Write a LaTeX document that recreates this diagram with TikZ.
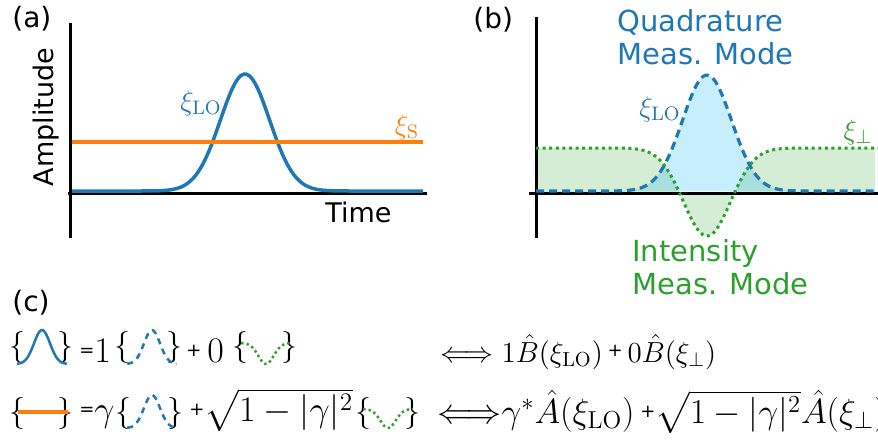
\RequirePackage{fix-cm}
\documentclass[tikz,border=0pt]{standalone}
\usepackage[no-math]{fontspec}
\setmainfont{DejaVu Sans}
\usepackage{amsmath}
\usetikzlibrary{positioning}
\definecolor{tabblue}{RGB}{31,119,180}
\definecolor{taborange}{RGB}{255,127,14}
\definecolor{tabgreen}{RGB}{44,160,44}
\definecolor{skyfill}{RGB}{0,176,245}
\newcommand{\smallop}[1]{\raisebox{2.6pt}{\fontsize{9}{9}\selectfont #1}}

\begin{document}
\begin{tikzpicture}[
    x=0.5pt, y=-0.5pt,
    axisline/.style={line width=1.5pt, black},
    lomode/.style={line width=1.75pt, tabblue},
    lodash/.style={line width=1.6pt, tabblue, dash pattern=on 4pt off 2.5pt},
    perpdot/.style={line width=1.5pt, tabgreen, dash pattern=on 1.5pt off 1.8pt},
    sigline/.style={line width=2.25pt, taborange},
    lofill/.style={fill=skyfill, fill opacity=0.22},
    perpfill/.style={fill=tabgreen, fill opacity=0.2},
    panellabel/.style={font=\fontsize{14}{16}\selectfont, inner sep=0pt, anchor=base west},
    axislabel/.style={font=\fontsize{13.5}{16}\selectfont, inner sep=0pt},
    modelabel/.style={font=\fontsize{14.5}{16.5}\selectfont, align=left, inner sep=0pt, anchor=base west},
    xilabel/.style={font=\fontsize{14}{16}\selectfont, inner sep=0pt},
    eqpart/.style={font=\fontsize{16}{18}\selectfont, inner sep=0pt},
    eqbig/.style={font=\fontsize{18}{20}\selectfont, inner sep=0pt, anchor=base west},
    eqright/.style={font=\fontsize{14.5}{18}\selectfont, inner sep=0pt, anchor=base west}
]
\useasboundingbox (0,0) rectangle (878,441);

% (a) local oscillator and signal
\node[panellabel] (laba) at (12,27) {(a)};
\draw[axisline] (70,23) -- (70,238);
\draw[axisline] (68,193) -- (427,193);
\draw[lomode] (72,191) -- plot[domain=-4.5:4.5, samples=80, smooth] ({245+24.6*\x},{191-117*exp(-\x*\x/2)}) -- (423,191);
\draw[sigline] (72,142) -- (423,142);
\node[axislabel, rotate=90] (amp) at (46,117) {Amplitude};
\node[axislabel, anchor=base west] (time) at (325,222) {Time};
\node[xilabel, text=tabblue] (xia) at (201,103) {$\xi_{\mathrm{LO}}$};
\node[xilabel, text=taborange] (xis) at (407,127) {$\xi_{\mathrm{S}}$};

% (b) measurement modes
\node[panellabel] (labb) at (473,28) {(b)};
\fill[perpfill] (536,193) -- (536,148) -- plot[domain=-4.5:4.5, samples=80, smooth] ({707+24.6*\x},{148+88*exp(-\x*\x/1.854)}) -- (875,148) -- (875,193) -- cycle;
\fill[lofill] (536,191) -- plot[domain=-4.5:4.5, samples=80, smooth] ({707+24.6*\x},{191-116*exp(-\x*\x/2)}) -- (878,191) -- cycle;
\draw[axisline] (536,17) -- (536,238);
\draw[axisline] (529,193) -- (878,193);
\draw[lodash] (536,191) -- plot[domain=-4.5:4.5, samples=80, smooth] ({707+24.6*\x},{191-116*exp(-\x*\x/2)}) -- (878,191);
\draw[perpdot] (536,148) -- plot[domain=-4.5:4.5, samples=80, smooth] ({707+24.6*\x},{148+88*exp(-\x*\x/1.854)}) -- (878,148);
\node[modelabel, text=tabblue] (quad) at (617,64) {Quadrature\\Meas. Mode};
\node[modelabel, text=tabgreen] (inten) at (632,294) {Intensity\\Meas. Mode};
\node[xilabel, text=tabblue] (xib) at (660,109) {$\xi_{\mathrm{LO}}$};
\node[xilabel, text=tabgreen] (xip) at (858,132) {$\xi_{\perp}$};

% (c) mode decompositions
\node[panellabel] (labc) at (12,311) {(c)};
\node[eqpart] (bra) at (41.5,347) {$\{\hspace{16pt}\}$};
\node[eqbig] (eqa) at (79,362) {\smallop{=}$1$};
\node[eqpart] (brb) at (148,347) {$\{\hspace{18pt}\}$};
\node[eqbig] (plusa) at (186,362) {\smallop{+}\,$0$};
\node[eqpart] (brc) at (265,347) {$\{\hspace{17pt}\}$};
\draw[lomode, line width=1.25pt] plot[domain=-3.1:3.1, samples=40, smooth] ({42+8*\x},{364-34*exp(-\x*\x/2)});
\draw[lodash, line width=1.25pt, dash pattern=on 3pt off 2.5pt] plot[domain=-3.1:3.1, samples=40, smooth] ({152+8*\x},{364-34*exp(-\x*\x/2)});
\draw[perpdot, line width=1.25pt, dash pattern=on 1.2pt off 1.5pt] plot[domain=-3.1:3.1, samples=40, smooth] ({266+8*\x},{343+21*exp(-\x*\x/1.854)});
\node[eqright] (opb) at (440,362) {$\Longleftrightarrow 1\hat{B}(\xi_{\mathrm{LO}})$\,\smallop{+}\,$0\hat{B}(\xi_{\perp})$};

\node[eqpart] (brd) at (41.5,413) {$\{\hspace{16pt}\}$};
\node[eqbig] (eqb) at (79,421) {\smallop{=}$\gamma$};
\node[eqpart] (bre) at (149,413) {$\{\hspace{18pt}\}$};
\node[eqbig] (plusb) at (189,421) {\smallop{+}$\sqrt{1-|\gamma|^2}$};
\node[eqpart] (brf) at (388,413) {$\{\hspace{17pt}\}$};
\draw[sigline, line width=2pt] (18,412) -- (68,412);
\draw[lodash, line width=1.25pt, dash pattern=on 3pt off 2.5pt] plot[domain=-3.1:3.1, samples=40, smooth] ({152+8*\x},{428-33*exp(-\x*\x/2)});
\draw[perpdot, line width=1.25pt, dash pattern=on 1.2pt off 1.5pt] plot[domain=-3.1:3.1, samples=40, smooth] ({388+8*\x},{409+19*exp(-\x*\x/1.854)});
\node[eqright, font=\fontsize{17.5}{20}\selectfont] (opa) at (437,423) {${\Longleftrightarrow}\gamma^*\hat{A}(\xi_{\mathrm{LO}})$\,\smallop{+}$\sqrt{1-|\gamma|^2}\hat{A}(\xi_{\perp})$};
\end{tikzpicture}
\end{document}
